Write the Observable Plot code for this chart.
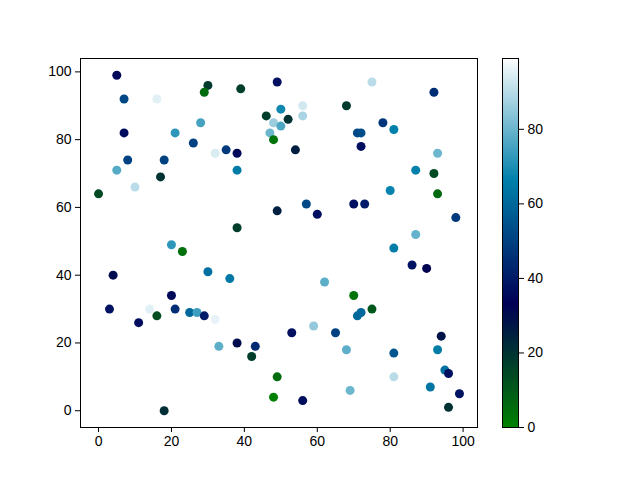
<!DOCTYPE html>
<html>
<head>
<meta charset="utf-8">
<script src="https://cdn.jsdelivr.net/npm/d3@7"></script>
<script src="https://cdn.jsdelivr.net/npm/@observablehq/plot@0.6"></script>
<style>
  body { margin: 0; background: #fff; }
  #wrap { position: relative; width: 640px; height: 480px; }
  #wrap svg { position: absolute; left: 0; top: 0; }
</style>
</head>
<body>
<div id="wrap"></div>
<script>
const xs = [5,30,29,39,49,75,92,7,16,50,68,56,56,46,52,28,48,50,78,81,71,72,7,21,47,48,26,54,72,32,35,38,38,8,18,5,17,10,0,49,38,20,93,87,92,93,80,57,60,70,73,98,87,81,23,30,36,4,11,20,3,14,21,16,11,25,27,29,32,33,38,43,42,49,48,18,86,90,62,70,75,72,71,53,65,59,68,81,94,93,95,96,81,91,69,99,96,56];
const ys = [99,96,94,95,97,97,94,92,92,89,90,90,87,87,86,85,85,84,85,83,82,82,82,82,82,80,79,77,78,76,77,76,71,74,74,71,69,66,64,59,54,49,76,71,70,64,65,61,58,61,61,57,52,48,47,41,39,40,35,34,30,30,30,28,26,29,29,28,27,19,20,19,16,10,4,0,43,42,38,34,30,29,28,23,23,25,18,17,22,18,12,11,10,7,6,5,1,3];
const cs = [35,18,5,17,37,90,45,52,95,68,18,93,88,17,20,75,86,76,47,66,52,53,36,72,80,3,50,25,37,94,48,35,65,50,50,77,20,90,14,25,17,72,80,66,14,6,67,52,37,37,40,48,79,65,4,62,64,30,99,35,38,95,45,13,36,60,74,40,96,78,30,44,17,5,0,21,38,32,78,3,10,60,60,37,50,85,78,55,28,65,62,37,90,63,80,38,20,36];
const cbTicks = [0,20,40,60,80];

const points = xs.map((x, i) => ({x, y: ys[i], c: cs[i]}));

function ocean(t) {
  const r = Math.max(0, Math.min(1, 3 * t - 2));
  const g = Math.max(0, Math.min(1, Math.abs((3 * t - 1) / 2)));
  const b = Math.max(0, Math.min(1, t));
  return `rgb(${Math.round(r*255)},${Math.round(g*255)},${Math.round(b*255)})`;
}

const cExt = d3.extent(cs);
const pad = (a, b) => [a - (b - a) * 0.05, b + (b - a) * 0.05];
const xDom = pad(...d3.extent(xs));
const yDom = pad(...d3.extent(ys));
const font = "Liberation Sans, Arial, sans-serif";

const main = Plot.plot({
  width: 640, height: 480,
  marginLeft: 80, marginRight: 163, marginTop: 58, marginBottom: 53,
  style: {fontFamily: font, fontSize: "14px", color: "black", background: "transparent"},
  x: {domain: xDom, ticks: [0,20,40,60,80,100], tickSize: 5, tickPadding: 4, label: null},
  y: {domain: yDom, ticks: [0,20,40,60,80,100], tickSize: 5, tickPadding: 4, label: null},
  color: {type: "linear", domain: cExt, interpolate: ocean},
  marks: [
    Plot.dot(points, {x: "x", y: "y", fill: "c", r: 4.5, stroke: null}),
    Plot.frame({stroke: "black", strokeWidth: 1})
  ]
});

const step = 0.25;
const slices = d3.range(cExt[0], cExt[1], step).map(v => ({v}));
const cbar = Plot.plot({
  width: 640, height: 480,
  marginLeft: 502, marginRight: 122, marginTop: 58, marginBottom: 53,
  style: {fontFamily: font, fontSize: "14px", color: "black", background: "transparent"},
  x: {domain: [0, 1], axis: null},
  y: {domain: cExt, ticks: cbTicks, axis: "right", tickSize: 5, tickPadding: 4, label: null},
  color: {type: "linear", domain: cExt, interpolate: ocean},
  marks: [
    Plot.rect(slices, {x1: 0, x2: 1, y1: d => d.v, y2: d => Math.min(cExt[1], d.v + step * 2), fill: "v", shapeRendering: "crispEdges"}),
    Plot.frame({stroke: "black", strokeWidth: 1})
  ]
});

const wrap = document.getElementById("wrap");
wrap.appendChild(main);
wrap.appendChild(cbar);
</script>
</body>
</html>
